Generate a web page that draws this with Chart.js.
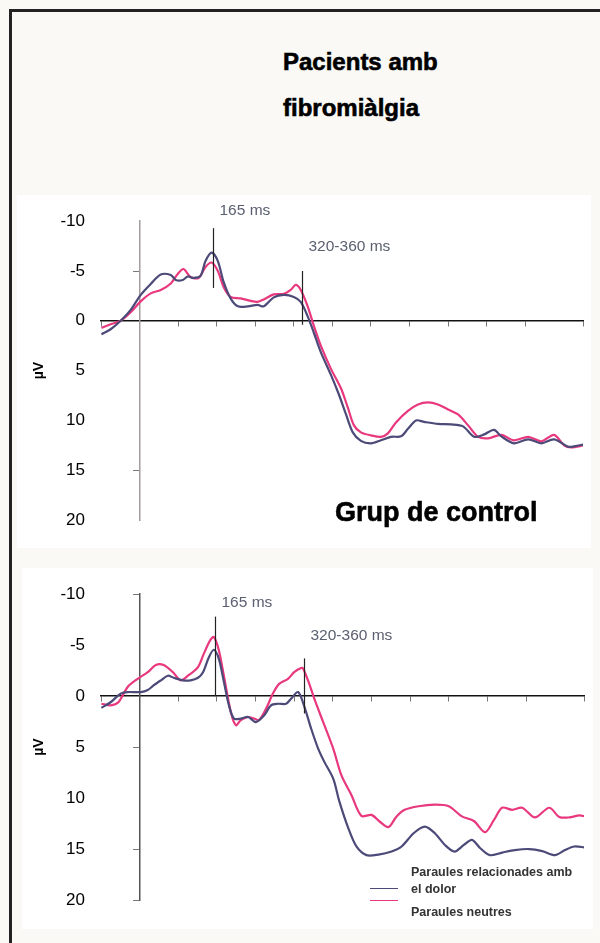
<!DOCTYPE html>
<html>
<head>
<meta charset="utf-8">
<script src="https://cdn.jsdelivr.net/npm/chart.js@4/dist/chart.umd.min.js"></script>
<style>
  html, body { margin: 0; padding: 0; }
  body { width: 600px; height: 943px; background: #faf9f6; position: relative; overflow: hidden; font-family: "Liberation Sans", Arial, sans-serif; }
  .frameL { position: absolute; left: 9px; top: 9px; width: 3px; height: 934px; background: #222; }
  .frameT { position: absolute; left: 9px; top: 9px; width: 591px; height: 3px; background: #222; }
  canvas { position: absolute; background: #fff; }
  .ttl { position: absolute; font-weight: bold; color: #000; white-space: nowrap; -webkit-text-stroke: 0.6px #000; line-height: 1; }
  .leg { position: absolute; font-size: 12.5px; font-weight: bold; color: #333; white-space: nowrap; line-height: 1; }
  .legline { position: absolute; height: 0; width: 28px; border-top: 1.6px solid; }
</style>
</head>
<body>
<div class="frameL"></div>
<div class="frameT"></div>
<canvas id="c1" width="574" height="353" style="left:17px;top:195px;"></canvas>
<canvas id="c2" width="571" height="361" style="left:22px;top:568px;"></canvas>
<div class="ttl" style="left:283px;top:50px;font-size:24px;">Pacients amb</div>
<div class="ttl" style="left:283px;top:96px;font-size:24px;">fibromiàlgia</div>
<div class="ttl" style="left:335px;top:499px;font-size:27px;">Grup de control</div>
<div id="legend"></div>
<script>
// ---------- data ----------
const seriesNames = ["Paraules relacionades amb el dolor", "Paraules neutres"];
const seriesColors = ["#4c4a78", "#e8387e"];
const yTickValues = [-10, -5, 0, 5, 10, 15, 20];

// Top chart: Pacients amb fibromiàlgia
const topDolorT = [-99,-75,-49,-23,3,29,55,81,94,112,125,140,158,171,187,203,218,236,255,281,306,322,348,374,400,418,436,452,470,496,517,535,553,574,600,626,652,678,696,717,738,774,808,839,868,894,919,938,971,1008,1042,1075,1112,1127,1153];
const topDolorV = [1.35,0.85,0,-1.1,-2.6,-3.7,-4.65,-4.6,-4.1,-4.1,-4.45,-4.3,-4.5,-6.0,-6.85,-6.0,-3.9,-2.25,-1.45,-1.45,-1.6,-1.45,-2.35,-2.6,-2.4,-1.9,-0.45,1.2,3.15,5.4,7.4,9.35,11.2,12.05,12.3,12.0,11.65,11.6,10.85,10.0,10.15,10.35,10.4,10.6,11.65,11.4,10.95,11.6,12.3,11.9,12.3,11.9,12.65,12.6,12.4];
const topNeutT = [-99,-75,-49,-23,3,29,55,81,99,114,132,153,171,187,203,218,236,262,288,306,322,348,374,392,405,418,436,452,470,496,522,540,556,574,600,626,644,665,696,722,748,774,800,826,852,878,904,938,971,1008,1042,1075,1101,1119,1153];
const topNeutV = [0.7,0.35,0,-0.85,-1.95,-2.75,-3.1,-3.75,-4.7,-5.2,-4.4,-4.3,-5.4,-5.85,-5.0,-3.4,-2.4,-2.25,-2.0,-1.9,-2.15,-2.65,-2.7,-3.1,-3.6,-3.1,-1.45,0.5,2.5,4.8,6.75,8.7,10.5,11.2,11.5,11.65,11.3,10.2,9.05,8.4,8.2,8.4,8.9,9.4,10.5,11.65,11.8,11.45,12.0,11.65,12.1,11.45,12.5,12.7,12.5];

// Bottom chart: Grup de control
const botDolorT = [-99,-75,-49,-31,3,21,36,55,73,88,112,132,151,164,179,192,205,218,231,244,262,281,301,322,340,358,379,392,410,426,444,462,478,501,517,540,561,587,618,652,678,709,738,764,790,815,839,860,881,906,938,971,1008,1042,1075,1101,1125,1153];
const botDolorV = [1.15,0.6,-0.25,-0.4,-0.4,-0.6,-1.05,-1.55,-2.0,-1.8,-1.55,-1.55,-1.8,-2.35,-3.8,-4.55,-3.65,-1.4,0.9,2.2,2.2,2.05,2.55,1.9,0.9,0.75,0.75,0.25,-0.4,1.0,3.2,5.15,6.45,8.1,10.35,12.95,14.75,15.6,15.55,15.25,14.75,13.45,12.8,13.45,14.6,15.25,14.6,14.1,14.9,15.6,15.35,15.1,15.0,15.2,15.6,15.1,14.75,14.85];
const botNeutT = [-99,-75,-55,-31,-5,21,42,62,86,106,125,151,166,182,192,205,218,236,249,262,281,296,309,327,345,361,384,400,418,423,439,452,475,501,522,548,574,600,621,644,665,686,722,764,800,834,865,894,917,938,964,990,1023,1060,1086,1112,1138,1153];
const botNeutV = [0.75,0.9,0.6,-0.9,-1.7,-2.35,-3.05,-3.05,-2.35,-1.55,-2.0,-2.85,-4.15,-5.45,-5.8,-4.5,-2.0,1.55,2.85,2.35,2.05,2.2,2.35,1.25,-0.25,-1.2,-1.7,-2.35,-2.75,-2.7,-1.2,0.25,2.55,5.15,7.75,9.7,11.75,11.65,12.3,12.85,11.8,11.15,10.8,10.65,10.8,11.8,12.25,13.35,12.15,10.95,11.15,10.95,11.9,10.95,11.85,11.9,11.7,11.8];

// Markers (time in ms, from/to in µV, label position in µV)
const topMarkerT = [190, 421];
const topMarkerFrom = [-9.3, -5.0];
const topMarkerTo = [-3.3, 0.4];
const topMarkerLabelV = [-11.1, -7.4];
const botMarkerT = [195, 426];
const botMarkerFrom = [-7.8, -3.7];
const botMarkerTo = [0, 1.7];
const botMarkerLabelV = [-9.2, -5.9];
const markerLabels = ["165 ms", "320-360 ms"];

const xMin = -100, xMax = 1150, xStep = 100;
const yMin = -10, yMax = 20;
const topYTickMarks = [-5, 15];
const botYTickMarks = [-10, 5, 15, 20];

// ---------- helpers ----------
function pts(t, v) { return t.map((x, i) => ({ x: x, y: v[i] })); }

function markerPlugin(mT, mFrom, mTo, mLab) {
  return {
    id: 'markers',
    afterDatasetsDraw(chart) {
      const ctx = chart.ctx, xs = chart.scales.x, ys = chart.scales.y;
      ctx.save();
      mT.forEach((t, i) => {
        const px = Math.round(xs.getPixelForValue(t)) + 0.5;
        ctx.strokeStyle = '#222';
        ctx.lineWidth = 1.2;
        ctx.beginPath();
        ctx.moveTo(px, ys.getPixelForValue(mFrom[i]));
        ctx.lineTo(px, ys.getPixelForValue(mTo[i]));
        ctx.stroke();
        ctx.fillStyle = '#5a6070';
        ctx.font = '15.5px "Liberation Sans", Arial, sans-serif';
        ctx.textBaseline = 'middle';
        ctx.textAlign = 'left';
        ctx.fillText(markerLabels[i], px + 6, ys.getPixelForValue(mLab[i]));
      });
      ctx.restore();
    }
  };
}

function makeChart(id, dolorT, dolorV, neutT, neutV, pad, yAxisColor, yTickMarks, markers) {
  return new Chart(document.getElementById(id), {
    type: 'line',
    data: {
      datasets: [
        { label: seriesNames[0], data: pts(dolorT, dolorV), borderColor: seriesColors[0], borderWidth: 2.2, pointRadius: 0, tension: 0.3, fill: false },
        { label: seriesNames[1], data: pts(neutT, neutV), borderColor: seriesColors[1], borderWidth: 2.2, pointRadius: 0, tension: 0.3, fill: false }
      ]
    },
    options: {
      responsive: false,
      animation: false,
      devicePixelRatio: 1,
      layout: { padding: pad },
      plugins: { legend: { display: false }, tooltip: { enabled: false }, title: { display: false } },
      scales: {
        x: {
          type: 'linear', min: xMin, max: xMax,
          position: { y: 0 },
          ticks: { display: false, stepSize: xStep },
          grid: { drawOnChartArea: false, drawTicks: true, tickLength: 5, color: '#777', lineWidth: 1 },
          border: { display: true, color: '#111', width: 1.5 }
        },
        y: {
          type: 'linear', min: yMin, max: yMax, reverse: true,
          position: { x: 0 },
          ticks: { display: false, stepSize: 5 },
          grid: {
            drawOnChartArea: false, drawTicks: true, tickLength: 6, lineWidth: 1,
            color: (c) => (c.tick && yTickMarks.includes(c.tick.value)) ? '#777' : 'rgba(0,0,0,0)'
          },
          border: { display: true, color: yAxisColor, width: 1.5 }
        },
        yl: {
          type: 'linear', min: yMin, max: yMax, reverse: true,
          position: 'left',
          afterBuildTicks: (s) => { s.ticks = yTickValues.map(v => ({ value: v })); },
          afterFit: (s) => { s.width = 70; },
          ticks: { color: '#000', padding: 16, font: { family: '"Liberation Sans", Arial, sans-serif', size: 17 } },
          grid: { display: false, drawTicks: false },
          border: { display: false },
          title: { display: true, text: 'µV', color: '#000', padding: { top: 0, bottom: 0 }, font: { family: '"Liberation Sans", Arial, sans-serif', size: 14, weight: 'bold' } }
        }
      }
    },
    plugins: [markers]
  });
}

makeChart('c1', topDolorT, topDolorV, topNeutT, topNeutV,
  { left: 14, right: 8, top: 22, bottom: 28 }, '#a39c9c', topYTickMarks,
  markerPlugin(topMarkerT, topMarkerFrom, topMarkerTo, topMarkerLabelV));
makeChart('c2', botDolorT, botDolorV, botNeutT, botNeutV,
  { left: 9, right: 9, top: 24, bottom: 29 }, '#555', botYTickMarks,
  markerPlugin(botMarkerT, botMarkerFrom, botMarkerTo, botMarkerLabelV));

// ---------- legend (HTML, real text) ----------
const leg = document.getElementById('legend');
const legendRows = [
  { lines: ["Paraules relacionades amb", "el dolor"], lineY: 888, textTop: 866 },
  { lines: ["Paraules neutres"], lineY: 900, textTop: 906 }
];
legendRows.forEach((r, i) => {
  const ln = document.createElement('div');
  ln.className = 'legline';
  ln.style.left = '370px';
  ln.style.top = r.lineY + 'px';
  ln.style.borderTopColor = seriesColors[i];
  leg.appendChild(ln);
  r.lines.forEach((txt, j) => {
    const d = document.createElement('div');
    d.className = 'leg';
    d.style.left = '411px';
    d.style.top = (r.textTop + j * 17) + 'px';
    d.textContent = txt;
    leg.appendChild(d);
  });
});
</script>
</body>
</html>
